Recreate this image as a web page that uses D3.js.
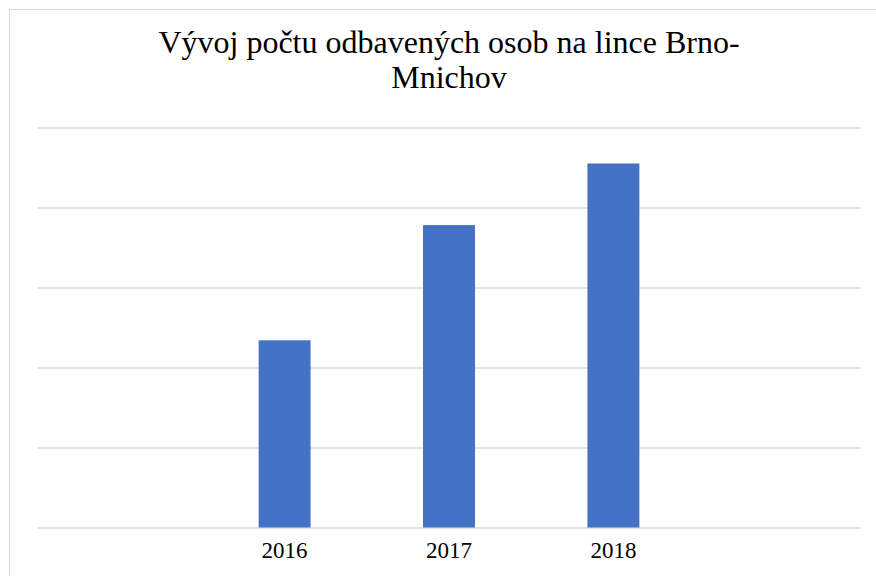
<!DOCTYPE html>
<html>
<head>
<meta charset="utf-8">
<script src="https://cdn.jsdelivr.net/npm/d3@7"></script>
<style>
  html, body { margin: 0; padding: 0; background: #fff; }
  svg { display: block; }
</style>
</head>
<body>
<svg id="chart" width="876" height="576"></svg>
<script>
// Passenger counts on the Brno–Munich route (empty slots pad the axis on both sides)
const categories = ["", "2016", "2017", "2018", " "];
const values = [null, 23400, 37800, 45500, null];
const gridTicks = [0, 10000, 20000, 30000, 40000, 50000];
const titleLines = ["Vývoj počtu odbavených osob na lince Brno-", "Mnichov"];

const SERIF = '"Liberation Serif"';
const svg = d3.select("#chart");
const W = 876, H = 576;
const margin = { left: 38, right: 16, top: 127.5, bottom: 48.5 };

// chart frame
svg.append("rect")
  .attr("x", 9.5).attr("y", 9.5)
  .attr("width", W + 20).attr("height", H + 20)
  .attr("fill", "#fff")
  .attr("stroke", "#d9d9d9")
  .attr("stroke-width", 1);

const x = d3.scaleBand()
  .domain(categories)
  .range([margin.left, W - margin.right])
  .paddingInner(0.684)
  .paddingOuter(0.342);

const y = d3.scaleLinear()
  .domain([0, 50000])
  .range([H - margin.bottom, margin.top]);

// horizontal gridlines
svg.append("g")
  .attr("transform", `translate(${margin.left},0)`)
  .call(d3.axisLeft(y).tickValues(gridTicks).tickSize(-(W - margin.right - margin.left)).tickFormat(""))
  .call(g => g.select(".domain").remove())
  .call(g => g.selectAll(".tick line").attr("stroke", "#d9d9d9").attr("stroke-width", 1.5));

// bars
svg.append("g")
  .selectAll("rect")
  .data(categories.map((c, i) => ({ c, v: values[i] })).filter(d => d.v != null))
  .join("rect")
  .attr("x", d => x(d.c))
  .attr("width", x.bandwidth())
  .attr("y", d => y(d.v))
  .attr("height", d => y(0) - y(d.v))
  .attr("fill", "#4472c4");

// category axis
svg.append("g")
  .attr("transform", `translate(0,${y(0)})`)
  .call(d3.axisBottom(x).tickSize(0).tickPadding(14))
  .call(g => g.select(".domain").remove())
  .call(g => g.selectAll("text")
    .style("font-family", SERIF)
    .style("font-size", "23px")
    .attr("fill", "#000"));

// title, one text element per line
svg.append("g")
  .selectAll("text")
  .data(titleLines)
  .join("text")
  .attr("text-anchor", "middle")
  .style("font-family", SERIF)
  .style("font-size", "32px")
  .attr("fill", "#000")
  .attr("x", 449)
  .attr("y", (d, i) => 53 + i * 35)
  .text(d => d);
</script>
</body>
</html>
